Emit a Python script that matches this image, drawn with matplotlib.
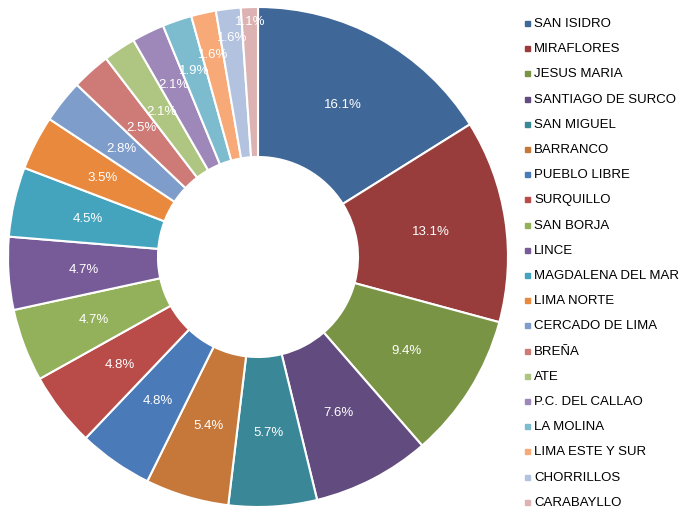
import matplotlib
matplotlib.use("Agg")
import numpy as np
import matplotlib.pyplot as plt
from matplotlib.patches import Rectangle

plt.rcParams['font.family'] = ['Liberation Sans', 'DejaVu Sans']

districts = ["SAN ISIDRO", "MIRAFLORES", "JESUS MARIA", "SANTIAGO DE SURCO",
             "SAN MIGUEL", "BARRANCO", "PUEBLO LIBRE", "SURQUILLO", "SAN BORJA",
             "LINCE", "MAGDALENA DEL MAR", "LIMA NORTE", "CERCADO DE LIMA",
             "BREÑA", "ATE", "P.C. DEL CALLAO", "LA MOLINA", "LIMA ESTE Y SUR",
             "CHORRILLOS", "CARABAYLLO"]
shares = [16.1, 13.1, 9.4, 7.6, 5.7, 5.4, 4.8, 4.8, 4.7, 4.7,
          4.5, 3.5, 2.8, 2.5, 2.1, 2.1, 1.9, 1.6, 1.6, 1.1]
colors = ["#3F6798", "#983D3B", "#7A9445", "#624B7E", "#3A8797", "#C6773A",
          "#4A7AB8", "#B94B48", "#93B05A", "#775B99", "#45A4BD", "#E8893E",
          "#7F9DCB", "#CE7B78", "#AFC683", "#9D88B9", "#7DBBCF", "#F7AA77",
          "#B3C3DF", "#DDB2B2"]

# label radius (fraction of outer radius); the thin slices get pushed outwards
label_r = [0.7] * 15 + [0.77, 0.79, 0.83, 0.885, 0.945]

W, H = 681, 510
fig = plt.figure(figsize=(W / 100, H / 100), dpi=100)

# donut: center (258,258) px, outer radius 250 px
cx, cy, r = 258, 258, 250
ax = fig.add_axes([(cx - r) / W, (H - cy - r) / H, 2 * r / W, 2 * r / H])
wedges, texts = ax.pie(shares, colors=colors, startangle=90, counterclock=False,
                       radius=1.0, wedgeprops=dict(width=0.6, edgecolor="white", linewidth=1.5))
ax.set_xlim(-1, 1)
ax.set_ylim(-1, 1)
ax.set_aspect("equal")
ax.axis("off")

ang = 90.0
for s, lr in zip(shares, label_r):
    mid = ang - s * 3.6 / 2
    ang -= s * 3.6
    rad = np.deg2rad(mid)
    ax.text(lr * np.cos(rad), lr * np.sin(rad), f"{s:.1f}%", ha="center", va="center",
            color="white", fontsize=9.5)

# legend
y0, step = 22.5, 25.2
for i, (name, c) in enumerate(zip(districts, colors)):
    y = y0 + i * step
    fig.patches.append(Rectangle((525 / W, (H - y - 4.5) / H), 5 / W, 5 / H,
                                 transform=fig.transFigure, color=c, figure=fig))
    fig.text(534 / W, (H - y) / H, name, ha="left", va="center_baseline",
             fontsize=9.5, color="black")

fig.savefig("out.png", dpi=100)
